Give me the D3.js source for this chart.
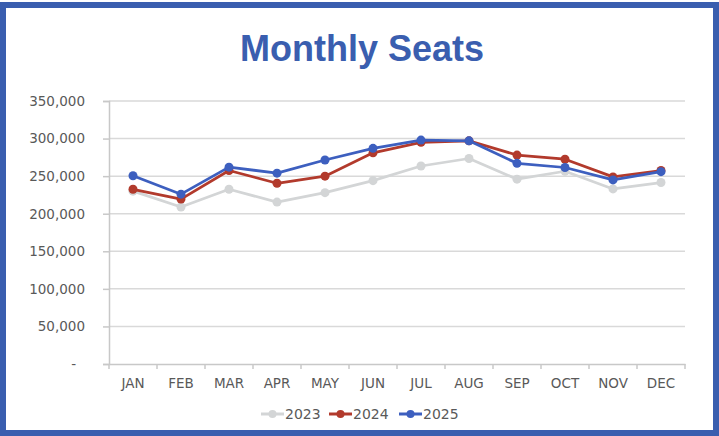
<!DOCTYPE html>
<html>
<head>
<meta charset="utf-8">
<script src="https://cdn.jsdelivr.net/npm/d3@7"></script>
<style>
  html, body { margin: 0; padding: 0; background: #fff; }
  svg { display: block; }
</style>
</head>
<body>
<svg id="chart" width="719" height="436"></svg>
<script>
// Monthly seat counts by year
const months = ["JAN","FEB","MAR","APR","MAY","JUN","JUL","AUG","SEP","OCT","NOV","DEC"];
const years = ["2023","2024","2025"];
const seats2023 = [230000, 209000, 232500, 215500, 228000, 244000, 263500, 273500, 246000, 256500, 233000, 241500];
const seats2024 = [232500, 219500, 257500, 240500, 250000, 281000, 295000, 297000, 278000, 272500, 249000, 257500];
const seats2025 = [250500, 226000, 262000, 254000, 271500, 287000, 298000, 297000, 267000, 261500, 245000, 256000];
const yTicks = [0, 50000, 100000, 150000, 200000, 250000, 300000, 350000];

const series = [
  { name: years[0], values: seats2023, color: "#d3d5d6" },
  { name: years[1], values: seats2024, color: "#b23a2c" },
  { name: years[2], values: seats2025, color: "#3d5fbf" }
];

const svg = d3.select("#chart");
const W = 719, H = 436;
const plot = { left: 109, right: 685, top: 101, bottom: 364 };
const titleFont = "'Liberation Sans', Arial, sans-serif";
const font = "'DejaVu Sans', Verdana, sans-serif";
const textColor = "#595959";

// outer frame
svg.append("rect")
  .attr("x", 3).attr("y", 5)
  .attr("width", W - 6).attr("height", H - 8)
  .attr("fill", "#fff")
  .attr("stroke", "#3a5eaf")
  .attr("stroke-width", 6);

// title
svg.append("text")
  .attr("x", 362).attr("y", 61)
  .attr("text-anchor", "middle")
  .attr("font-family", titleFont)
  .attr("font-weight", "bold")
  .attr("font-size", 36)
  .attr("fill", "#3a5eaf")
  .text("Monthly Seats");

const x = d3.scaleBand().domain(months).range([plot.left, plot.right]).padding(0);
const y = d3.scaleLinear().domain([0, 350000]).range([plot.bottom, plot.top]);

// horizontal gridlines
svg.append("g")
  .selectAll("line")
  .data(yTicks.filter(d => d > 0))
  .join("line")
  .attr("x1", plot.left).attr("x2", plot.right)
  .attr("y1", d => y(d)).attr("y2", d => y(d))
  .attr("stroke", "#d9d9d9")
  .attr("stroke-width", 1.5);

// y axis
const fmt = d3.format(",");
const yAxis = svg.append("g")
  .attr("transform", `translate(${plot.left},0)`)
  .call(d3.axisLeft(y).tickValues(yTicks).tickSize(6).tickPadding(18)
    .tickFormat(d => d === 0 ? "-" : fmt(d)));
yAxis.select(".domain").attr("stroke", "#c8c8c8").attr("stroke-width", 1.5);
yAxis.selectAll(".tick line").attr("stroke", "#c8c8c8").attr("stroke-width", 1.5);
yAxis.selectAll(".tick text")
  .attr("font-family", font).attr("font-size", 13.5).attr("fill", textColor);
yAxis.selectAll(".tick").filter(d => d === 0).select("text").attr("dx", -9);

// x axis: ticks sit on category boundaries
const xAxis = svg.append("g")
  .attr("transform", `translate(0,${plot.bottom})`)
  .call(d3.axisBottom(x).tickSize(0).tickPadding(14));
xAxis.select(".domain").attr("stroke", "#c8c8c8").attr("stroke-width", 1.5);
xAxis.selectAll(".tick text")
  .attr("font-family", font).attr("font-size", 13.5).attr("fill", textColor);
xAxis.selectAll("line.bound")
  .data(d3.range(months.length + 1))
  .join("line")
  .attr("class", "bound")
  .attr("x1", i => plot.left + i * x.step())
  .attr("x2", i => plot.left + i * x.step())
  .attr("y1", 0).attr("y2", 5)
  .attr("stroke", "#c8c8c8").attr("stroke-width", 1.5);

// series lines and markers
const line = d3.line()
  .x((d, i) => x(months[i]) + x.bandwidth() / 2)
  .y(d => y(d));

series.forEach(s => {
  const g = svg.append("g");
  g.append("path")
    .attr("d", line(s.values))
    .attr("fill", "none")
    .attr("stroke", s.color)
    .attr("stroke-width", 2.75)
    .attr("stroke-linejoin", "round");
  g.selectAll("circle")
    .data(s.values)
    .join("circle")
    .attr("cx", (d, i) => x(months[i]) + x.bandwidth() / 2)
    .attr("cy", d => y(d))
    .attr("r", 4.5)
    .attr("fill", s.color);
});

// legend
const legendX = [261, 329, 399];
const legendY = 414;
series.forEach((s, i) => {
  const g = svg.append("g").attr("transform", `translate(${legendX[i]},${legendY})`);
  g.append("line")
    .attr("x1", 0).attr("x2", 23).attr("y1", 0).attr("y2", 0)
    .attr("stroke", s.color).attr("stroke-width", 3);
  g.append("circle").attr("cx", 11.5).attr("cy", 0).attr("r", 4).attr("fill", s.color);
  g.append("text")
    .attr("x", 24).attr("y", 0).attr("dy", "0.36em")
    .attr("font-family", font).attr("font-size", 14).attr("fill", textColor)
    .text(s.name);
});
</script>
</body>
</html>
